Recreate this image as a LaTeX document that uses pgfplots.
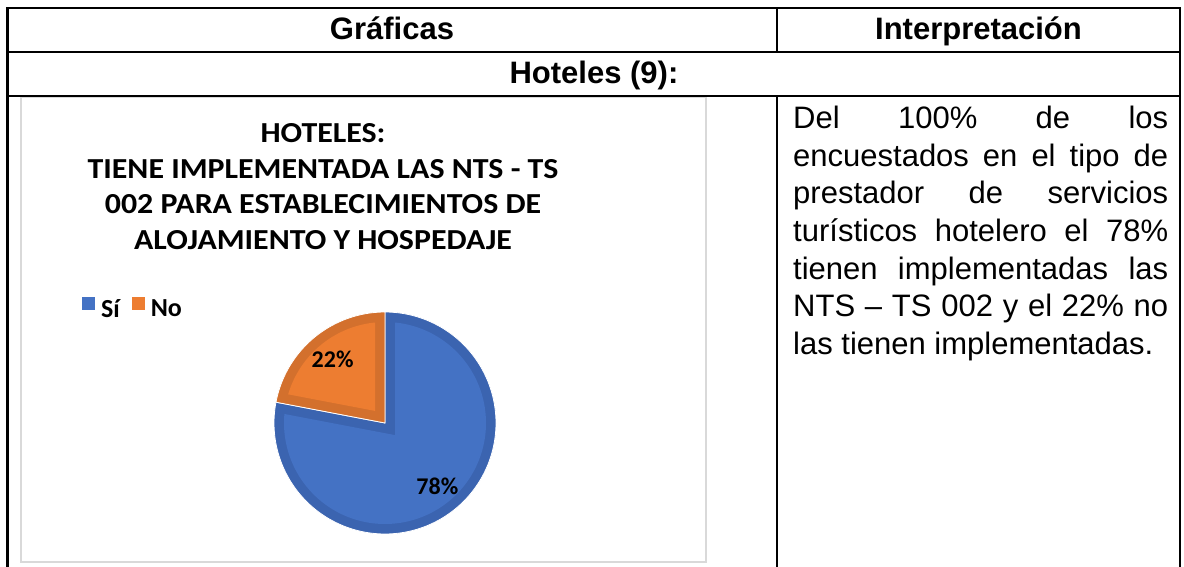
\documentclass[border=0pt]{standalone}
\usepackage{fontspec}
\setmainfont{Liberation Sans}
\newfontfamily\calib{Carlito}
\usepackage{pgfplots}
\usepackage{pgfplotstable}
\pgfplotsset{compat=1.18}
\definecolor{blueL}{HTML}{4472C4}
\definecolor{blueD}{HTML}{3B64B0}
\definecolor{orL}{HTML}{ED7D31}
\definecolor{orD}{HTML}{D3702D}
\definecolor{framec}{HTML}{D9D9D9}

\pgfplotstableread{
label value
Si 78
No 22
}\piedata

\begin{document}%
\begin{tikzpicture}[x=1pt,y=1pt]
\pgfplotstablegetelem{0}{value}\of\piedata \let\vSi\pgfplotsretval
\pgfplotstablegetelem{1}{value}\of\piedata \let\vNo\pgfplotsretval
\pgfmathsetmacro{\tot}{\vSi+\vNo}
\def\cx{385}\def\cy{143}\def\R{111}\def\w{10}
\pgfmathsetmacro{\Ri}{\R-\w}
\pgfmathsetmacro{\dA}{asin(\w/\Ri)}
% orange (No) wedge 90 -> aB ; blue (Si) wedge aB -> 450
\pgfmathsetmacro{\aA}{90}
\pgfmathsetmacro{\aB}{90+360*\vNo/\tot}
\pgfmathsetmacro{\aC}{450}
\pgfmathsetmacro{\hO}{(\aB-\aA)/2}\pgfmathsetmacro{\bO}{(\aB+\aA)/2}
\pgfmathsetmacro{\hB}{(\aC-\aB)/2}\pgfmathsetmacro{\bB}{(\aC+\aB)/2}
\pgfmathsetmacro{\dO}{\w/sin(\hO)}\pgfmathsetmacro{\dB}{\w/sin(\hB)}
\pgfmathsetmacro{\oxc}{\cx+\dO*cos(\bO)}\pgfmathsetmacro{\oyc}{\cy+\dO*sin(\bO)}
\pgfmathsetmacro{\bxc}{\cx+\dB*cos(\bB)}\pgfmathsetmacro{\byc}{\cy+\dB*sin(\bB)}
\pgfmathsetmacro{\oiA}{\aA+\dA}\pgfmathsetmacro{\oiB}{\aB-\dA}
\pgfmathsetmacro{\biA}{\aB+\dA}\pgfmathsetmacro{\biB}{\aC-\dA}
\pgfmathsetmacro{\lox}{\cx+0.74*\R*cos(\bO)}\pgfmathsetmacro{\loy}{\cy+0.74*\R*sin(\bO)}
\pgfmathsetmacro{\lbx}{\cx+0.74*\R*cos(\bB)}\pgfmathsetmacro{\lby}{\cy+0.74*\R*sin(\bB)}
% chart frame
\draw[framec, line width=1.5pt] (21,4) rectangle (706,469);
% table lines
\begin{scope}[line width=2.6pt, line cap=rect]
\draw (7.5,558) -- (1180,558);
\draw (7.5,514) -- (1180,514);
\draw (7.5,470) -- (1180,470);
\draw (7.5,558) -- (7.5,-4);
\draw (1180,558) -- (1180,-4);
\draw (777,558) -- (777,514);
\draw (777,470) -- (777,-4);
\end{scope}
% header texts
\begin{scope}[every node/.style={anchor=base, inner sep=0pt, font=\fontsize{31}{37}\selectfont\bfseries}]
\node at (392,526) {Gráficas};
\node at (978.5,526) {Interpretación};
\node at (594,482) {Hoteles (9):};
\end{scope}
% interpretation text
\begin{scope}[every node/.style={anchor=base west, inner sep=0pt, font=\fontsize{31}{37}\selectfont}]
\node at (793,437) {\makebox[375pt][s]{Del 100\% de los}};
\node at (793,399.5) {\makebox[375pt][s]{encuestados en el tipo de}};
\node at (793,362) {\makebox[375pt][s]{prestador de servicios}};
\node at (793,324.5) {\makebox[375pt][s]{turísticos hotelero el 78\%}};
\node at (793,287) {\makebox[375pt][s]{tienen implementadas las}};
\node at (793,249.5) {\makebox[375pt][s]{NTS – TS 002 y el 22\% no}};
\node at (793,212) {\makebox[375pt][l]{las tienen implementadas.}};
\end{scope}
% chart title
\begin{scope}[every node/.style={anchor=base, inner sep=0pt, font=\fontsize{29}{35}\calib\bfseries}]
\node at (323,423) {\scalebox{1.1}[1]{HOTELES:}};
\node at (323,387.5) {\scalebox{1.1}[1]{TIENE IMPLEMENTADA LAS NTS - TS}};
\node at (323,352) {\scalebox{1.1}[1]{002 PARA ESTABLECIMIENTOS DE}};
\node at (323,316.5) {\scalebox{1.1}[1]{ALOJAMIENTO Y HOSPEDAJE}};
\end{scope}
\begin{axis}[at={(0,0)}, anchor=south west, scale only axis,
  width=1184pt, height=566pt, xmin=0, xmax=1184, ymin=0, ymax=566,
  hide axis, clip=false,
  legend style={at={(82/1184,257/566)}, anchor=west, draw=none, fill=none,
    font=\fontsize{26}{30}\calib\bfseries, legend columns=2,
    inner sep=0pt, /tikz/every odd column/.append style={column sep=4pt},
    /tikz/every even column/.append style={column sep=10pt}},
  legend image code/.code={\fill[#1] (0pt,-1pt) rectangle (13pt,12pt);},
]
\addplot[forget plot, draw=white, line width=0.8pt, fill=blueD, domain=\aB:\aC, samples=160, variable=\t]
  ({\cx+\R*cos(\t)},{\cy+\R*sin(\t)}) -- (axis cs:\cx,\cy) -- cycle;
\addplot[forget plot, draw=white, line width=0.8pt, fill=orD, domain=\aA:\aB, samples=60, variable=\t]
  ({\cx+\R*cos(\t)},{\cy+\R*sin(\t)}) -- (axis cs:\cx,\cy) -- cycle;
\addplot[draw=none, fill=blueL, domain=\biA:\biB, samples=160, variable=\t]
  ({\cx+\Ri*cos(\t)},{\cy+\Ri*sin(\t)}) -- (axis cs:\bxc,\byc) -- cycle;
\addlegendentry{Sí}
\addplot[draw=none, fill=orL, domain=\oiA:\oiB, samples=60, variable=\t]
  ({\cx+\Ri*cos(\t)},{\cy+\Ri*sin(\t)}) -- (axis cs:\oxc,\oyc) -- cycle;
\addlegendentry{No}
\node[font=\fontsize{24}{28}\calib\bfseries] at (axis cs:\lox,\loy) {\vNo\%};
\node[font=\fontsize{24}{28}\calib\bfseries] at (axis cs:\lbx,\lby) {\vSi\%};
\end{axis}
\pgfresetboundingbox
\useasboundingbox (0,0) rectangle (1184,566);
\end{tikzpicture}%
\end{document}
